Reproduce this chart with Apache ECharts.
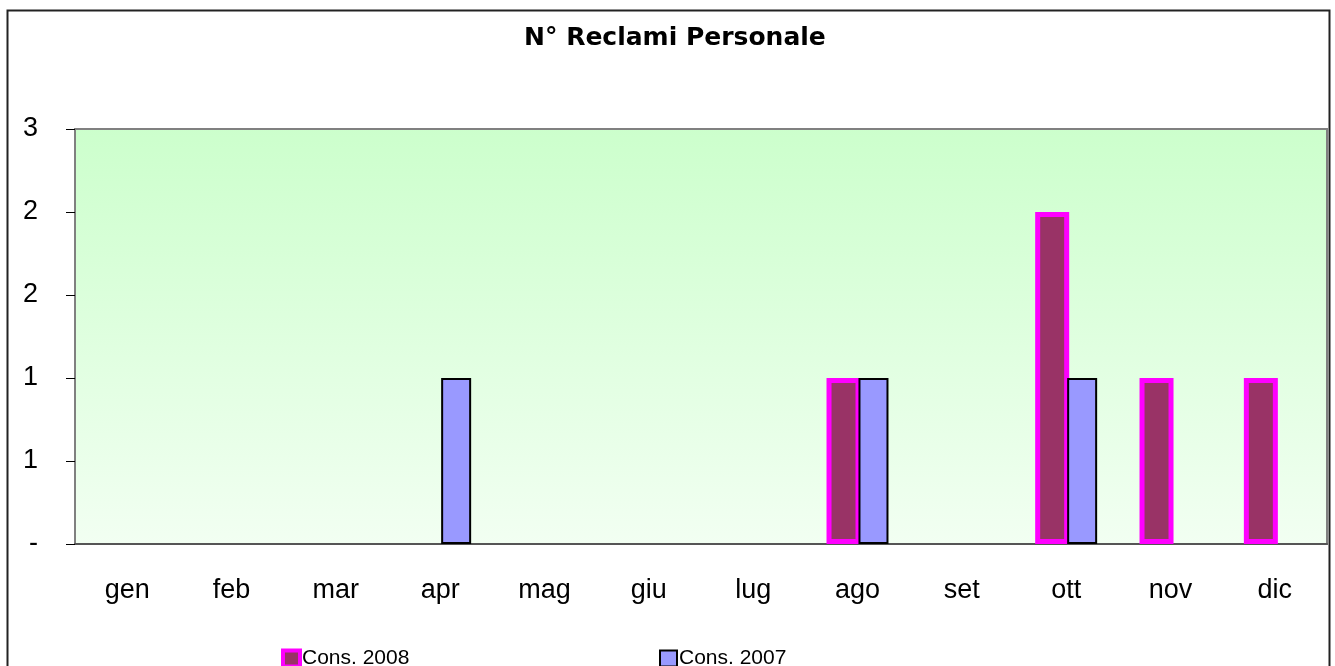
<!DOCTYPE html>
<html>
<head>
<meta charset="utf-8">
<title>N° Reclami Personale</title>
<script src="https://cdn.jsdelivr.net/npm/echarts@6/dist/echarts.min.js"></script>
<style>
  html, body { margin: 0; padding: 0; background: #fff; }
  #chart { width: 1335px; height: 666px; }
</style>
</head>
<body>
<div id="chart"></div>
<script>
// mesi e valori
const months = ['gen', 'feb', 'mar', 'apr', 'mag', 'giu', 'lug', 'ago', 'set', 'ott', 'nov', 'dic'];
const cons2008 = [null, null, null, null, null, null, null, 1, null, 2, 1, 1];
const cons2007 = [null, null, null, 1, null, null, null, 1, null, 1, null, null];
const yMin = 0;
const yMax = 2.5;
const yStep = 0.5;

const titleFont = 'DejaVu Sans, Verdana, sans-serif';
const font = 'Liberation Sans, Arial, sans-serif';

let chart = echarts.init(document.getElementById('chart'));
chart.setOption({
  backgroundColor: '#fff',
  animation: false,
  graphic: [{
    type: 'rect',
    shape: {x: 7.5, y: 10.5, width: 1322, height: 700},
    style: {fill: 'none', stroke: '#222', lineWidth: 2},
    z: 100
  }],
  title: {
    text: 'N° Reclami Personale',
    left: 524,
    top: 26,
    padding: 0,
    textStyle: {fontFamily: titleFont, fontSize: 25, fontWeight: 'bold', color: '#000'}
  },
  grid: {
    left: 75,
    right: 8,
    top: 129,
    bottom: 122,
    show: true,
    borderColor: '#808080',
    borderWidth: 2,
    backgroundColor: new echarts.graphic.LinearGradient(0, 0, 0, 1, [
      {offset: 0, color: '#ccffcc'},
      {offset: 1, color: '#f2fff2'}
    ])
  },
  legend: [{
    left: 281,
    top: 648,
    padding: 0,
    itemWidth: 17,
    itemHeight: 16,
    icon: 'rect',
    data: [{name: 'Cons. 2008', itemStyle: {color: '#993366', borderColor: '#ff00ff', borderWidth: 4}}],
    textStyle: {fontFamily: font, fontSize: 21, color: '#000', padding: [0, 0, 0, -3]}
  }, {
    left: 659,
    top: 648,
    padding: 0,
    itemWidth: 17,
    itemHeight: 16,
    icon: 'rect',
    data: [{name: 'Cons. 2007', itemStyle: {color: '#9999ff', borderColor: '#000', borderWidth: 2}}],
    textStyle: {fontFamily: font, fontSize: 21, color: '#000', padding: [0, 0, 0, -3]}
  }],
  xAxis: {
    type: 'category',
    data: months,
    axisLine: {lineStyle: {color: '#555', width: 2}},
    axisTick: {length: 9, lineStyle: {color: '#333'}},
    axisLabel: {fontFamily: font, fontSize: 27, color: '#000', margin: 33},
    splitLine: {show: false}
  },
  yAxis: {
    type: 'value',
    min: yMin,
    max: yMax,
    interval: yStep,
    axisLine: {show: true, lineStyle: {color: '#808080', width: 2}},
    axisTick: {show: true, length: 9, lineStyle: {color: '#000'}},
    axisLabel: {
      fontFamily: font, fontSize: 27, color: '#000', margin: 37,
      formatter: function (v) {
        return v === 0 ? '-' : String(Math.round(v));
      }
    },
    splitLine: {show: false}
  },
  series: [{
    name: 'Cons. 2008',
    type: 'bar',
    data: cons2008,
    barWidth: 34,
    barGap: '-6%',
    itemStyle: {color: '#993366', borderColor: '#ff00ff', borderWidth: 5}
  }, {
    name: 'Cons. 2007',
    type: 'bar',
    data: cons2007,
    barWidth: 30,
    barGap: '-6%',
    itemStyle: {color: '#9999ff', borderColor: '#000', borderWidth: 2}
  }]
});
</script>
</body>
</html>
